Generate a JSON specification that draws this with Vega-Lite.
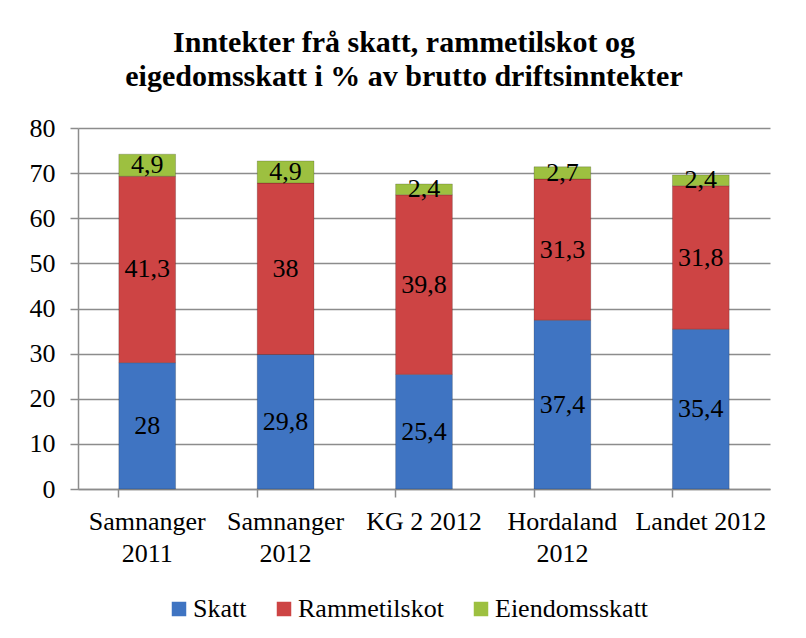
{
  "$schema": "https://vega.github.io/schema/vega-lite/v6.json",
  "width": 692,
  "height": 361,
  "autosize": "none",
  "padding": {"left": 78, "top": 128, "right": 36, "bottom": 149},
  "background": "white",
  "config": {
    "font": "Times New Roman",
    "view": {"stroke": null},
    "locale": {"number": {"decimal": ",", "thousands": " ", "grouping": [3], "currency": ["", " kr"]}}
  },
  "title": {
    "text": ["Inntekter frå skatt, rammetilskot og", "eigedomsskatt i % av brutto driftsinntekter"],
    "font": "Times New Roman",
    "fontSize": 30,
    "fontWeight": "bold",
    "color": "black",
    "lineHeight": 34,
    "anchor": "middle",
    "dx": -20,
    "offset": 23
  },
  "data": {
    "values": [
      {"kategori": "Samnanger 2011", "serie": "Skatt", "ordning": 1, "verdi": 28},
      {"kategori": "Samnanger 2011", "serie": "Rammetilskot", "ordning": 2, "verdi": 41.3},
      {"kategori": "Samnanger 2011", "serie": "Eiendomsskatt", "ordning": 3, "verdi": 4.9},
      {"kategori": "Samnanger 2012", "serie": "Skatt", "ordning": 1, "verdi": 29.8},
      {"kategori": "Samnanger 2012", "serie": "Rammetilskot", "ordning": 2, "verdi": 38},
      {"kategori": "Samnanger 2012", "serie": "Eiendomsskatt", "ordning": 3, "verdi": 4.9},
      {"kategori": "KG 2 2012", "serie": "Skatt", "ordning": 1, "verdi": 25.4},
      {"kategori": "KG 2 2012", "serie": "Rammetilskot", "ordning": 2, "verdi": 39.8},
      {"kategori": "KG 2 2012", "serie": "Eiendomsskatt", "ordning": 3, "verdi": 2.4},
      {"kategori": "Hordaland 2012", "serie": "Skatt", "ordning": 1, "verdi": 37.4},
      {"kategori": "Hordaland 2012", "serie": "Rammetilskot", "ordning": 2, "verdi": 31.3},
      {"kategori": "Hordaland 2012", "serie": "Eiendomsskatt", "ordning": 3, "verdi": 2.7},
      {"kategori": "Landet 2012", "serie": "Skatt", "ordning": 1, "verdi": 35.4},
      {"kategori": "Landet 2012", "serie": "Rammetilskot", "ordning": 2, "verdi": 31.8},
      {"kategori": "Landet 2012", "serie": "Eiendomsskatt", "ordning": 3, "verdi": 2.4}
    ]
  },
  "encoding": {
    "x": {
      "field": "kategori",
      "type": "nominal",
      "sort": ["Samnanger 2011", "Samnanger 2012", "KG 2 2012", "Hordaland 2012", "Landet 2012"],
      "scale": {"paddingInner": 0.59, "paddingOuter": 0.295},
      "axis": {
        "title": null,
        "labelAngle": 0,
        "labelFont": "Times New Roman",
        "labelFontSize": 26,
        "labelColor": "black",
        "labelPadding": 11,
        "labelLineHeight": 32,
        "labelBaseline": "top",
        "labelExpr": "datum.label == 'KG 2 2012' || datum.label == 'Landet 2012' ? datum.label : split(datum.label, ' ')",
        "bandPosition": 0,
        "tickSize": 8,
        "tickColor": "#8c8c8c",
        "domainColor": "#8c8c8c",
        "tickWidth": 1.5,
        "domainWidth": 1.5
      }
    },
    "y": {
      "field": "verdi",
      "type": "quantitative",
      "stack": "zero",
      "scale": {"domain": [0, 80], "nice": false},
      "axis": {
        "title": null,
        "values": [0, 10, 20, 30, 40, 50, 60, 70, 80],
        "labelFont": "Times New Roman",
        "labelFontSize": 26,
        "labelColor": "black",
        "labelPadding": 15,
        "tickSize": 8,
        "tickColor": "#8c8c8c",
        "gridColor": "#8c8c8c",
        "gridWidth": 1.5,
        "tickWidth": 1.5,
        "domainColor": "#8c8c8c",
        "domainWidth": 1.5
      }
    },
    "order": {"field": "ordning", "type": "quantitative"}
  },
  "layer": [
    {
      "mark": {"type": "bar", "stroke": "#00000030", "strokeWidth": 1},
      "encoding": {
        "color": {
          "field": "serie",
          "type": "nominal",
          "scale": {
            "domain": ["Skatt", "Rammetilskot", "Eiendomsskatt"],
            "range": ["#3f74c2", "#cd4444", "#9dc040"]
          },
          "legend": {
            "title": null,
            "orient": "none",
            "legendX": 88,
            "legendY": 468,
            "direction": "horizontal",
            "symbolType": "square",
            "symbolSize": 210,
            "symbolStrokeWidth": 0,
            "labelFont": "Times New Roman",
            "labelFontSize": 26,
            "labelColor": "black",
            "labelOffset": 1,
            "columnPadding": 24
          }
        }
      }
    },
    {
      "mark": {"type": "text", "font": "Times New Roman", "fontSize": 26, "color": "black", "baseline": "middle"},
      "encoding": {
        "y": {"field": "verdi", "type": "quantitative", "stack": "zero", "bandPosition": 0.5},
        "text": {"field": "verdi", "type": "quantitative", "format": ".1~f"}
      }
    }
  ]
}
